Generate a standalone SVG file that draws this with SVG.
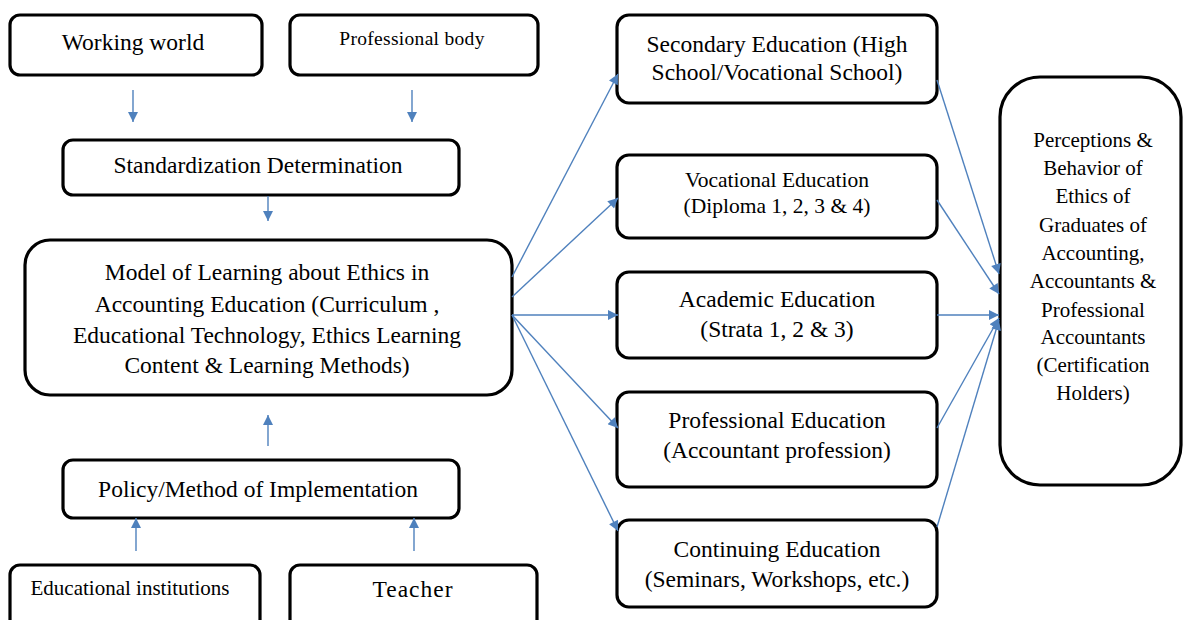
<svg xmlns="http://www.w3.org/2000/svg" width="1184" height="620" viewBox="0 0 1184 620">
<style>
.box{fill:#fff;stroke:#000;stroke-width:3.2}
.t{font-family:"Liberation Serif","Times New Roman",serif;font-size:23.5px;fill:#000;text-anchor:middle}
.c{stroke:#4F81BD;stroke-width:1.4;fill:none;marker-end:url(#ah)}
</style>
<defs>
<marker id="ah" viewBox="0 0 10 10" refX="10" refY="5" markerWidth="12" markerHeight="10" markerUnits="userSpaceOnUse" orient="auto">
<path d="M0,0 L10,5 L0,10 Z" fill="#4F81BD"/>
</marker>
</defs>
<rect width="1184" height="620" fill="#fff"/>
<g id="working-world"><rect class="box" x="10" y="15" width="252" height="60" rx="10"/><text class="t" x="133" y="50">Working world</text></g>
<g id="professional-body"><rect class="box" x="290" y="15" width="248" height="60" rx="10"/><text class="t" x="412" y="45" style="font-size:19.5px;letter-spacing:0.3px">Professional body</text></g>
<g id="standardization"><rect class="box" x="63" y="140" width="396" height="55" rx="10"/><text class="t" x="258" y="173">Standardization Determination</text></g>
<g id="model"><rect class="box" x="25" y="240" width="487" height="155" rx="25"/>
<text class="t" x="267" y="280">Model of Learning about Ethics in</text>
<text class="t" x="267" y="312">Accounting Education (Curriculum ,</text>
<text class="t" x="267" y="343">Educational Technology, Ethics Learning</text>
<text class="t" x="267" y="373">Content &amp; Learning Methods)</text></g>
<g id="policy"><rect class="box" x="63" y="460" width="396" height="58" rx="10"/><text class="t" x="258" y="497">Policy/Method of Implementation</text></g>
<g id="educational-institutions"><rect class="box" x="10" y="565" width="250" height="70" rx="10"/><text class="t" x="130" y="595" style="font-size:21px">Educational  institutions</text></g>
<g id="teacher"><rect class="box" x="290" y="565" width="247" height="70" rx="10"/><text class="t" x="413" y="597" style="letter-spacing:1px">Teacher</text></g>
<g id="secondary"><rect class="box" x="617" y="15" width="320" height="88" rx="12"/><text class="t" x="777" y="52">Secondary Education (High</text><text class="t" x="777" y="80">School/Vocational School)</text></g>
<g id="vocational"><rect class="box" x="617" y="155" width="320" height="83" rx="12"/><text class="t" x="777" y="187" style="font-size:21.5px">Vocational Education</text><text class="t" x="777" y="213" style="font-size:21.5px">(Diploma 1, 2, 3 &amp; 4)</text></g>
<g id="academic"><rect class="box" x="617" y="272" width="320" height="86" rx="12"/><text class="t" x="777" y="307">Academic Education</text><text class="t" x="777" y="337">(Strata 1, 2 &amp; 3)</text></g>
<g id="professional"><rect class="box" x="617" y="392" width="320" height="95" rx="12"/><text class="t" x="777" y="428">Professional Education</text><text class="t" x="777" y="458">(Accountant profession)</text></g>
<g id="continuing"><rect class="box" x="617" y="520" width="320" height="87" rx="12"/><text class="t" x="777" y="557">Continuing Education</text><text class="t" x="777" y="587">(Seminars, Workshops, etc.)</text></g>
<g id="perceptions"><rect class="box" x="1000" y="77" width="181" height="408" rx="40"/>
<g class="t" style="font-size:21px">
<text x="1093" y="147">Perceptions &amp;</text>
<text x="1093" y="175">Behavior of</text>
<text x="1093" y="203">Ethics of</text>
<text x="1093" y="232">Graduates of</text>
<text x="1093" y="260">Accounting,</text>
<text x="1093" y="288">Accountants &amp;</text>
<text x="1093" y="317">Professional</text>
<text x="1093" y="344">Accountants</text>
<text x="1093" y="372">(Certification</text>
<text x="1093" y="400">Holders)</text>
</g></g>
<g id="connectors">
<line class="c" x1="133" y1="90" x2="133" y2="122"/>
<line class="c" x1="412" y1="90" x2="412" y2="122"/>
<line class="c" x1="268" y1="196" x2="268" y2="221"/>
<line class="c" x1="268" y1="446" x2="268" y2="415"/>
<line class="c" x1="136" y1="551" x2="136" y2="518"/>
<line class="c" x1="414" y1="551" x2="414" y2="518"/>
<line class="c" x1="512" y1="277" x2="618" y2="74"/>
<line class="c" x1="512" y1="297" x2="618" y2="198"/>
<line class="c" x1="512" y1="315" x2="618" y2="315"/>
<line class="c" x1="512" y1="315" x2="618" y2="428"/>
<line class="c" x1="512" y1="315" x2="618" y2="531"/>
<line class="c" x1="937" y1="80" x2="999" y2="274"/>
<line class="c" x1="937" y1="200" x2="999" y2="294"/>
<line class="c" x1="937" y1="315" x2="999" y2="315"/>
<line class="c" x1="937" y1="428" x2="999" y2="318"/>
<line class="c" x1="937" y1="527" x2="999" y2="320"/>
</g>
</svg>
